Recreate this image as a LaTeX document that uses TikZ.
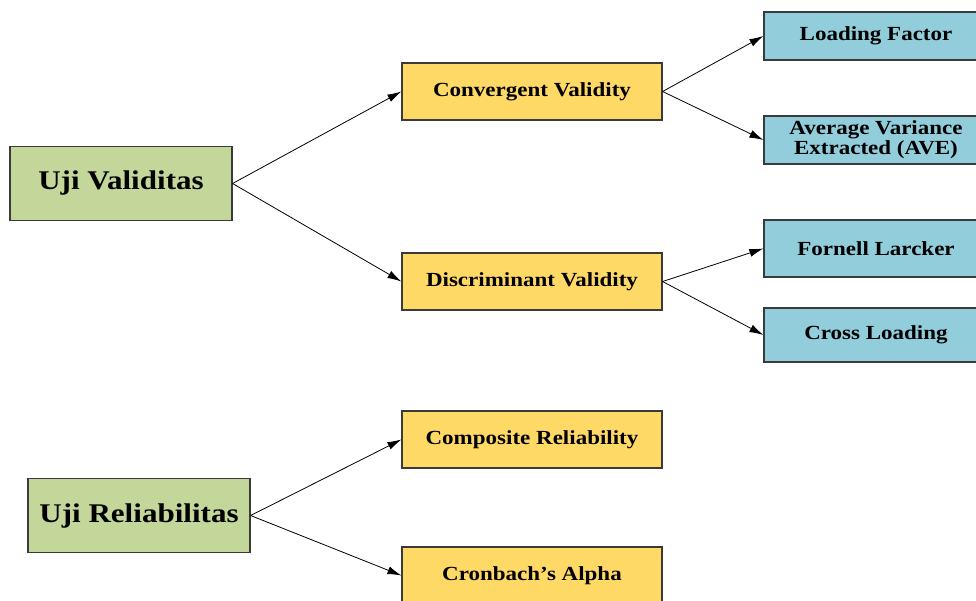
\documentclass[tikz,border=0pt]{standalone}
\usepackage{fontspec}
\setmainfont{Liberation Serif}[FakeStretch=1.15]
\usetikzlibrary{arrows.meta}

\definecolor{greenfill}{HTML}{C4D79B}
\definecolor{yellowfill}{HTML}{FFD966}
\definecolor{bluefill}{HTML}{92CDDC}
\definecolor{boxline}{HTML}{3A3A3A}

\tikzset{
  box/.style={draw=boxline, line width=1.2pt, inner sep=0pt, align=center,
    font=\bfseries\fontsize{20}{20}\selectfont},
  mainbox/.style={box, fill=greenfill, minimum width=222pt, minimum height=74pt,
    font=\bfseries\fontsize{27}{30}\selectfont},
  midbox/.style={box, fill=yellowfill, minimum width=260pt, minimum height=57pt},
  leafbox/.style={box, fill=bluefill, minimum width=224pt},
  link/.style={-{Latex[length=14pt,width=8pt]}, line width=0.8pt, black}
}

\begin{document}
\begin{tikzpicture}[x=1pt, y=-1pt]
  \useasboundingbox (0,0) rectangle (976,600);
  \clip (0,0) rectangle (976,600);

  % validity branch
  \node[mainbox] (uv) at (121,183.5) {Uji Validitas};
  \node[midbox] (cv) at (532,91.5) {Convergent Validity};
  \node[midbox] (dv) at (532,281.5) {Discriminant Validity};
  \node[leafbox, minimum height=48pt] (lf) at (876,36) {Loading Factor};
  \node[leafbox, minimum height=48pt] (ave) at (876,140) {Average Variance\\Extracted (AVE)};
  \node[leafbox, minimum height=57pt] (fl) at (876,248.5) {Fornell Larcker};
  \node[leafbox, minimum height=54pt] (cl) at (876,335) {Cross Loading};

  % reliability branch
  \node[mainbox] (ur) at (139,515.5) {Uji Reliabilitas};
  \node[midbox] (cr) at (532,439.5) {Composite Reliability};
  \node[midbox] (ca) at (532,575.5) {Cronbach’s Alpha};

  \draw[link] (uv.east) -- (cv.west);
  \draw[link] (uv.east) -- (dv.west);
  \draw[link] (cv.east) -- (lf.west);
  \draw[link] (cv.east) -- (ave.west);
  \draw[link] (dv.east) -- (fl.west);
  \draw[link] (dv.east) -- (cl.west);
  \draw[link] (ur.east) -- (cr.west);
  \draw[link] (ur.east) -- (ca.west);
\end{tikzpicture}
\end{document}
